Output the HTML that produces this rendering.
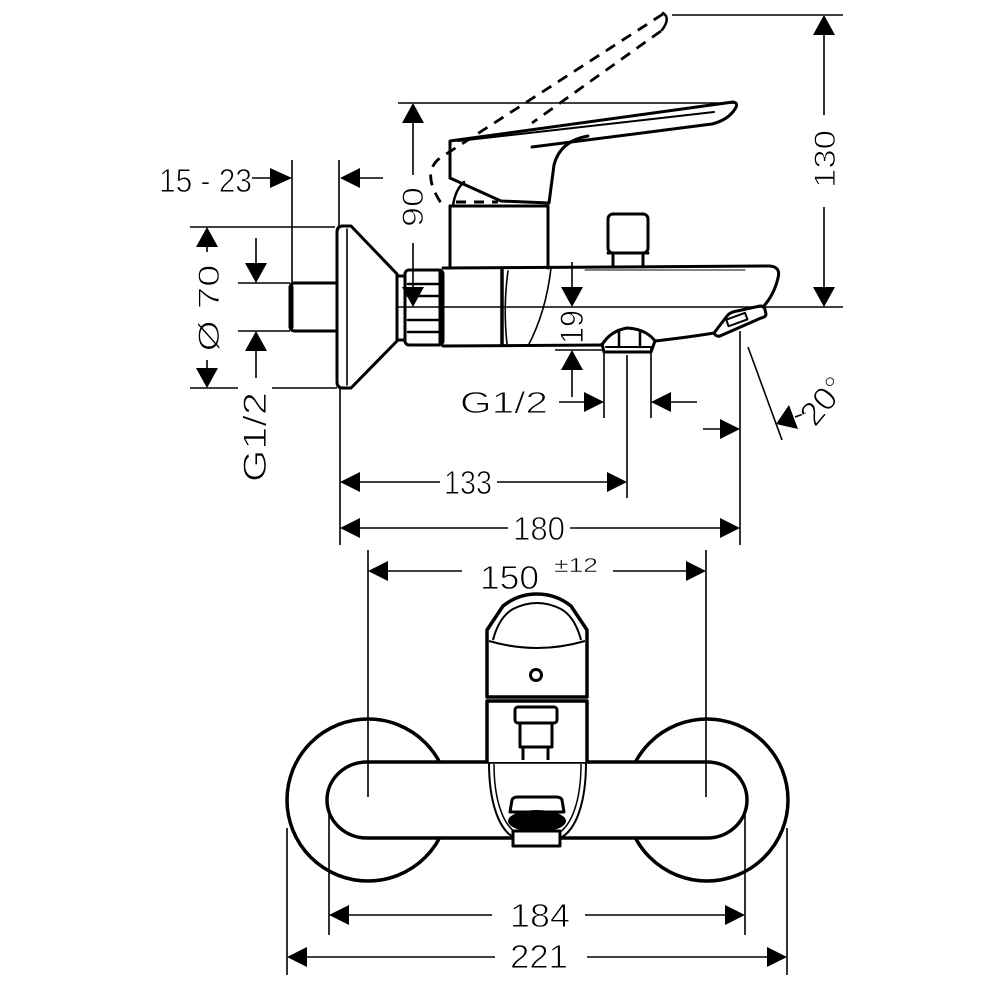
<!DOCTYPE html>
<html><head><meta charset="utf-8"><style>
html,body{margin:0;padding:0;background:#fff;}
svg{display:block;}
text{font-family:"Liberation Sans",sans-serif;fill:#000;stroke:#fff;stroke-width:0.9px;}
</style></head><body>
<svg width="1000" height="1000" viewBox="0 0 1000 1000" xmlns="http://www.w3.org/2000/svg">
<rect width="1000" height="1000" fill="#fff"/>

<!-- ===== TOP VIEW: faucet side elevation ===== -->
<g fill="none" stroke="#000" stroke-width="3" stroke-linejoin="round" stroke-linecap="round">
  <!-- ghost lever (dashed) -->
  <g stroke-width="2.8" stroke-dasharray="11 8" stroke-linecap="butt">
    <path d="M 663,14 L 440,158 Q 420,173 443,206"/>
    <path d="M 661,31 L 532,123"/>
  </g>
  <path d="M 663,13 Q 671,18 662,30" stroke-width="2.5"/>

  <!-- lever -->
  <path d="M 450,178 L 450,141 L 733,102 Q 739,103 735,109 Q 728,120 712,124 L 532,147"/>
  <path d="M 588,136 Q 560,141 554,165 L 549,203 L 501,201 L 450,178"/>
  <path d="M 458,141 L 714,112" stroke-width="2"/>
  <path d="M 453,206 Q 455,190 464,182" stroke-width="2.5"/>
  <path d="M 456,202 L 498,202" stroke-dasharray="10 8" stroke-linecap="butt"/>

  <!-- cartridge housing -->
  <path d="M 450,268 L 450,206 L 548,206 L 548,268"/>

  <!-- knob -->
  <rect x="608" y="214" width="40" height="39" rx="5"/>
  <path d="M 613,253 L 613,266 M 643,253 L 643,266 M 608,253 L 648,253"/>

  <!-- stub -->
  <path d="M 337,283 L 295,283 Q 290,283 290,289 L 290,325 Q 290,331 295,331 L 337,331"/>
  <path d="M 291,287 L 291,327" stroke-width="5"/>

  <!-- escutcheon -->
  <path d="M 337,232 Q 337,226 343,226 L 351,226 L 397,274 L 397,341 L 351,388 L 343,388 Q 337,388 337,382 Z"/>
  <path d="M 347,229 L 347,385" stroke-width="1.6"/>

  <!-- collar -->
  <path d="M 397,276 L 405,276 M 397,340 L 405,340"/>

  <!-- nut -->
  <rect x="405" y="270" width="38" height="75" rx="4"/>
  <path d="M 440,272 L 440,343"/>
  <path d="M 408,284 L 438,284 M 408,296 L 438,296 M 408,320 L 438,320 M 408,332 L 438,332" stroke-width="2.5"/>

  <!-- connector & spout -->
  <path d="M 443,268 L 770,266 Q 781,267 778,278 Q 774,295 763,307"/>
  <path d="M 443,346 L 602,345"/>
  <path d="M 502,270 L 502,345" stroke-width="3.5"/>
  <path d="M 508,271 Q 503,307 507,344" stroke-width="1.6"/>
  <path d="M 551,268 Q 546,312 528,346" stroke-width="1.6"/>
  <path d="M 585,270 L 745,270" stroke-width="1"/>

  <!-- bump outlet -->
  <path d="M 602,345 Q 610,331 627,328 Q 646,329 655,341"/>
  <path d="M 602,344 L 604,352 L 651,352 L 655,341"/>
  <path d="M 619,332 L 619,347 M 640,332 L 640,347" stroke-width="2.5"/>
  <path d="M 606,347 L 651,347" stroke-width="2"/>
  <path d="M 655,341 Q 690,337 714,333"/>

  <!-- aerator -->
  <path d="M 714,333 L 727,316 Q 730,312 737,311 L 760,306 Q 765,306 765,310 L 766,314 Q 766,317 761,318 L 720,336 Q 716,337 714,333 Z"/>
  <rect x="727" y="316" width="20" height="7" transform="rotate(-20 737 320)" stroke-width="2"/>
</g>

<!-- dimension lines (top view) -->
<g fill="none" stroke="#000" stroke-width="1.6">
  <path d="M 672,15 L 843,15"/>
  <path d="M 824,33 L 824,115 M 824,207 L 824,287"/>
  <path d="M 397,307 L 843,307"/>
  <path d="M 398,103 L 735,103"/>
  <path d="M 413,123 L 413,175 M 413,243 L 413,287"/>
  <path d="M 252,178 L 270,178 M 292,160 L 292,283 M 339,160 L 339,226 M 360,178 L 383,178"/>
  <path d="M 340,388 L 340,545"/>
  <path d="M 190,227 L 335,227 M 190,388 L 238,388 M 272,388 L 337,388 M 207,247 L 207,252 M 207,360 L 207,368"/>
  <path d="M 238,283 L 290,283 M 238,331 L 290,331 M 256,238 L 256,263 M 256,351 L 256,378"/>
  <path d="M 572,262 L 572,287 M 572,370 L 572,397 M 555,350 L 603,350"/>
  <path d="M 559,402 L 584,402 M 604,352 L 604,418 M 651,348 L 651,418 M 671,402 L 697,402"/>
  <path d="M 627,355 L 627,498"/>
  <path d="M 740,331 L 740,545 M 703,429 L 720,429"/>
  <path d="M 748,347 L 782,440 M 795,417 L 806,413"/>
  <path d="M 360,482 L 440,482 M 497,482 L 607,482"/>
  <path d="M 360,528 L 508,528 M 570,528 L 720,528"/>
</g>

<!-- ===== BOTTOM VIEW: front elevation ===== -->
<g fill="#fff" stroke="#000" stroke-width="3.5" stroke-linejoin="round">
  <circle cx="368" cy="800" r="81"/>
  <circle cx="707" cy="800" r="81"/>
  <path d="M 367,762 L 707,762 A 40 38 0 0 1 707,838 L 367,838 A 40 38 0 0 1 367,762 Z"/>
  <path d="M 487,762 L 487,701 L 587,701 L 587,762"/>
  <path d="M 487,697 L 487,630 L 503,606 Q 518,594 537,594 Q 556,594 571,606 L 587,630 L 587,697 Z"/>
</g>
<g fill="none" stroke="#000" stroke-width="3" stroke-linejoin="round">
  <path d="M 493,640 Q 499,617 513,609 Q 537,597 561,609 Q 575,617 581,640" stroke-width="2"/>
  <path d="M 489,641 Q 537,655 585,641" stroke-width="2"/>
  <circle cx="536" cy="675" r="5.5" stroke-width="3"/>
  <rect x="515" y="707" width="42" height="16" rx="3" fill="#fff"/>
  <rect x="520" y="723" width="32" height="24" fill="#fff"/>
  <path d="M 523,747 L 523,760 M 548,747 L 548,760"/>
  <path d="M 489,763 C 489,800 498,830 515,838" stroke-width="2"/>
  <path d="M 494,764 C 494,800 503,826 518,834" stroke-width="1.5"/>
  <path d="M 586,763 C 586,800 577,830 560,838" stroke-width="2"/>
  <path d="M 581,764 C 581,800 572,826 557,834" stroke-width="1.5"/>
  <path d="M 510,812 L 512,800 Q 513,797 518,797 L 556,797 Q 561,797 562,800 L 564,812 Z" fill="#fff"/>
  <rect x="513" y="831" width="47" height="15" fill="#fff"/>
</g>
<ellipse cx="537" cy="821" rx="29" ry="11" fill="#000"/>

<g fill="none" stroke="#000" stroke-width="1.6">
  <path d="M 368,550 L 368,797 M 706,550 L 706,797"/>
  <path d="M 388,571 L 462,571 M 613,571 L 686,571"/>
  <path d="M 329,812 L 329,935 M 745,812 L 745,935 M 349,915 L 492,915 M 585,915 L 725,915"/>
  <path d="M 287,828 L 287,975 M 787,828 L 787,975 M 307,957 L 495,957 M 587,957 L 767,957"/>
</g>

<!-- arrowheads -->
<g fill="#000" stroke="none">
  <polygon points="292,178 270,168 270,188"/>
  <polygon points="340,178 360,168 360,188"/>
  <polygon points="824,15 813,35 835,35"/>
  <polygon points="824,307 813,287 835,287"/>
  <polygon points="413,103 402,123 424,123"/>
  <polygon points="413,307 402,287 424,287"/>
  <polygon points="207,227 196,247 218,247"/>
  <polygon points="207,388 196,368 218,368"/>
  <polygon points="256,283 245,263 267,263"/>
  <polygon points="256,331 245,351 267,351"/>
  <polygon points="572,307 561,287 583,287"/>
  <polygon points="572,350 561,370 583,370"/>
  <polygon points="604,402 584,392 584,412"/>
  <polygon points="651,402 671,392 671,412"/>
  <polygon points="740,429 720,419 720,439"/>
  <polygon points="776,424 789,405 798,429"/>
  <polygon points="340,482 360,472 360,492"/>
  <polygon points="627,482 607,472 607,492"/>
  <polygon points="340,528 360,518 360,538"/>
  <polygon points="740,528 720,518 720,538"/>
  <polygon points="368,571 388,561 388,581"/>
  <polygon points="706,571 686,561 686,581"/>
  <polygon points="329,915 349,905 349,925"/>
  <polygon points="745,915 725,905 725,925"/>
  <polygon points="287,957 307,947 307,967"/>
  <polygon points="787,957 767,947 767,967"/>
</g>

<!-- texts -->
<text x="159" y="192" font-size="33" textLength="93" lengthAdjust="spacingAndGlyphs">15 - 23</text>
<text transform="translate(423,207) rotate(-90)" font-size="30" text-anchor="middle" textLength="40" lengthAdjust="spacingAndGlyphs">90</text>
<text transform="translate(835,159) rotate(-90)" font-size="30" text-anchor="middle" textLength="58" lengthAdjust="spacingAndGlyphs">130</text>
<text transform="translate(219,308) rotate(-90)" font-size="30" text-anchor="middle" textLength="87" lengthAdjust="spacingAndGlyphs">Ø 70</text>
<text transform="translate(266,437) rotate(-90)" font-size="32" text-anchor="middle" textLength="90" lengthAdjust="spacingAndGlyphs">G1/2</text>
<text transform="translate(583,327) rotate(-90)" font-size="32" text-anchor="middle" textLength="34" lengthAdjust="spacingAndGlyphs">19</text>
<text x="460" y="413" font-size="31" textLength="88" lengthAdjust="spacingAndGlyphs">G1/2</text>
<text transform="translate(815,428) rotate(-50)" font-size="33" textLength="52" lengthAdjust="spacingAndGlyphs">20°</text>
<text x="468" y="494" font-size="33" text-anchor="middle" textLength="48" lengthAdjust="spacingAndGlyphs">133</text>
<text x="539" y="540" font-size="33" text-anchor="middle" textLength="52" lengthAdjust="spacingAndGlyphs">180</text>
<text x="480" y="589" font-size="33" textLength="59" lengthAdjust="spacingAndGlyphs">150</text>
<text x="554" y="572" font-size="20" textLength="44" lengthAdjust="spacingAndGlyphs" style="stroke-width:0.5px">±12</text>
<text x="510" y="927" font-size="33" textLength="60" lengthAdjust="spacingAndGlyphs">184</text>
<text x="510" y="968" font-size="33" textLength="58" lengthAdjust="spacingAndGlyphs">221</text>
</svg>
</body></html>
